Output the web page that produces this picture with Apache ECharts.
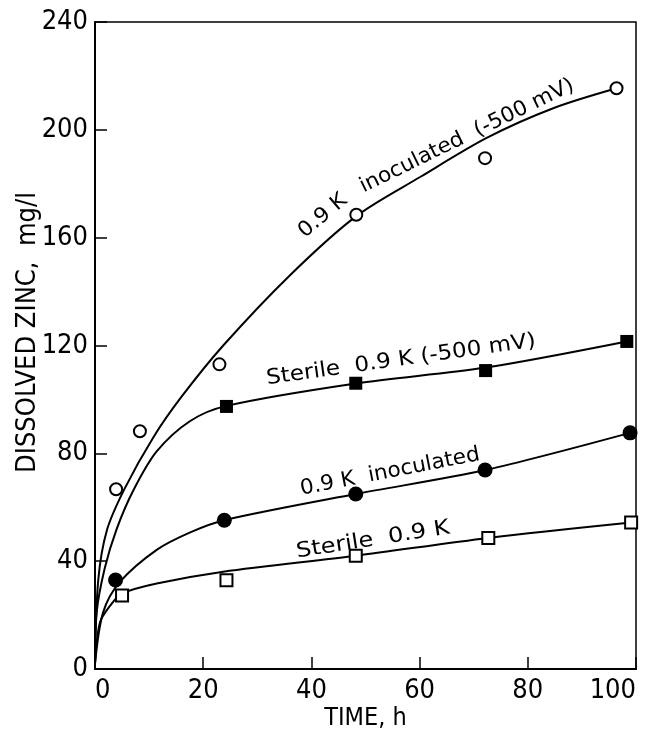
<!DOCTYPE html>
<html>
<head>
<meta charset="utf-8">
<script src="https://cdn.jsdelivr.net/npm/echarts@6/dist/echarts.min.js"></script>
<style>
  html, body { margin: 0; padding: 0; background: #fff; }
  #chart { width: 649px; height: 732px; }
</style>
</head>
<body>
<div id="chart"></div>
<script>
// measured points (time h, dissolved zinc mg/l)
const inocMvPts = [[3.9, 66.7], [8.3, 88.2], [23, 113], [48.3, 168.5], [72.1, 189.5], [96.4, 215.4]]
const sterileMvPts = [[24.3, 97.4], [48.2, 106], [72.2, 110.7], [98.3, 121.5]]
const inocPts = [[3.8, 33], [23.9, 55.2], [48.2, 64.9], [72.1, 73.8], [98.9, 87.6]]
const sterilePts = [[5, 27.3], [24.3, 32.9], [48.2, 42], [72.7, 48.6], [99.1, 54.3]]

// hand drawn fit curves
const inocMvCurve = [[0, 2], [0.6, 33], [2.2, 51.5], [5.5, 67], [10.8, 86], [16, 101], [23.7, 120], [36, 146], [48.3, 168], [60.1, 182.5], [72.4, 197], [84.7, 208], [96.4, 215.4]]
const sterileMvCurve = [[0, 2], [0.3, 21], [1.8, 37.4], [4, 51.9], [7.1, 66.3], [11.4, 80.7], [17.6, 92], [24.3, 97.6], [48.2, 105.9], [72.2, 111.8], [98.3, 121.5]]
const inocCurve = [[0, 2], [1.5, 21], [4.6, 32.3], [11.4, 44.2], [17.6, 50.7], [23.9, 55.2], [48.2, 64.9], [72.1, 73.8], [98.9, 87.6]]
const sterileCurve = [[0, 2], [0.9, 17.2], [2.8, 23.5], [4.9, 27.9], [11.4, 31.7], [23.7, 36.1], [48.2, 42], [72.7, 48.6], [99.1, 54.3]]

const xTicks = { min: 0, max: 100, interval: 20 }
const yTicks = { min: 0, max: 240, interval: 40 }

const tickFont = '"Liberation Sans Narrow", "DejaVu Sans Condensed", sans-serif'
const nameFont = '"DejaVu Sans Condensed", "DejaVu Sans", sans-serif'
const noteFont = '"DejaVu Sans", sans-serif'

const chart = echarts.init(document.getElementById('chart'))

function curve(data) {
  return {
    type: 'line',
    data: data,
    smooth: 0.3,
    showSymbol: false,
    symbol: 'none',
    silent: true,
    z: 2,
    lineStyle: { color: '#000', width: 2 }
  }
}

function points(data, symbol, size, filled) {
  return {
    type: 'scatter',
    data: data,
    symbol: symbol,
    symbolSize: size,
    z: 3,
    itemStyle: {
      opacity: 1,
      color: filled ? '#000' : '#fff',
      borderColor: '#000',
      borderWidth: filled ? 0 : 2
    }
  }
}

function note(text, x, y, deg, sx) {
  return {
    type: 'text',
    x: x,
    y: y,
    rotation: deg * Math.PI / 180,
    scaleX: sx,
    style: {
      text: text,
      fill: '#000',
      font: '21px ' + noteFont,
      align: 'center',
      verticalAlign: 'middle'
    }
  }
}

const option = {
  animation: false,
  backgroundColor: '#fff',
  grid: {
    left: 95,
    right: 13,
    top: 22,
    bottom: 63,
    show: true,
    borderColor: '#000',
    borderWidth: 1.5,
    containLabel: false,
    outerBoundsMode: 'none'
  },
  xAxis: {
    type: 'value',
    min: xTicks.min,
    max: xTicks.max,
    interval: xTicks.interval,
    name: 'TIME, h',
    nameLocation: 'middle',
    nameGap: 37,
    nameMoveOverlap: false,
    nameTextStyle: { color: '#000', fontSize: 25, fontFamily: nameFont },
    splitLine: { show: false },
    axisLine: { lineStyle: { color: '#000', width: 2 } },
    axisTick: { inside: true, length: 12, lineStyle: { color: '#000', width: 1.5 } },
    axisLabel: {
      color: '#000', fontSize: 27, fontFamily: tickFont, margin: 8,
      alignMinLabel: 'left', alignMaxLabel: 'right'
    }
  },
  yAxis: {
    type: 'value',
    min: yTicks.min,
    max: yTicks.max,
    interval: yTicks.interval,
    name: 'DISSOLVED ZINC,  mg/l',
    nameLocation: 'middle',
    nameRotate: 90,
    nameGap: 54,
    nameMoveOverlap: false,
    nameTextStyle: { color: '#000', fontSize: 27, fontFamily: nameFont, padding: [0, 0, 0, 26] },
    splitLine: { show: false },
    axisLine: { lineStyle: { color: '#000', width: 2 } },
    axisTick: { inside: true, length: 12, lineStyle: { color: '#000', width: 1.5 } },
    axisLabel: {
      color: '#000', fontSize: 27, fontFamily: tickFont, margin: 7
    }
  },
  series: [
    curve(inocMvCurve),
    curve(sterileMvCurve),
    curve(inocCurve),
    curve(sterileCurve),
    points(inocMvPts, 'circle', 12, false),
    points(sterileMvPts, 'rect', 13, true),
    points(inocPts, 'circle', 15, true),
    points(sterilePts, 'rect', 12, false)
  ],
  graphic: [
    note('0.9 K', 323, 216, 40, 1.05),
    note('inoculated  (-500 mV)', 467, 136, 26, 1.03),
    note('Sterile  0.9 K (-500 mV)', 401, 360, 8, 1.1),
    note('0.9 K  inoculated', 390, 472, 11, 1.03),
    note('Sterile  0.9 K', 373, 540, 9, 1.15)
  ]
}

chart.setOption(option)
window.addEventListener('resize', () => {
  chart.resize()
})
</script>
</body>
</html>
